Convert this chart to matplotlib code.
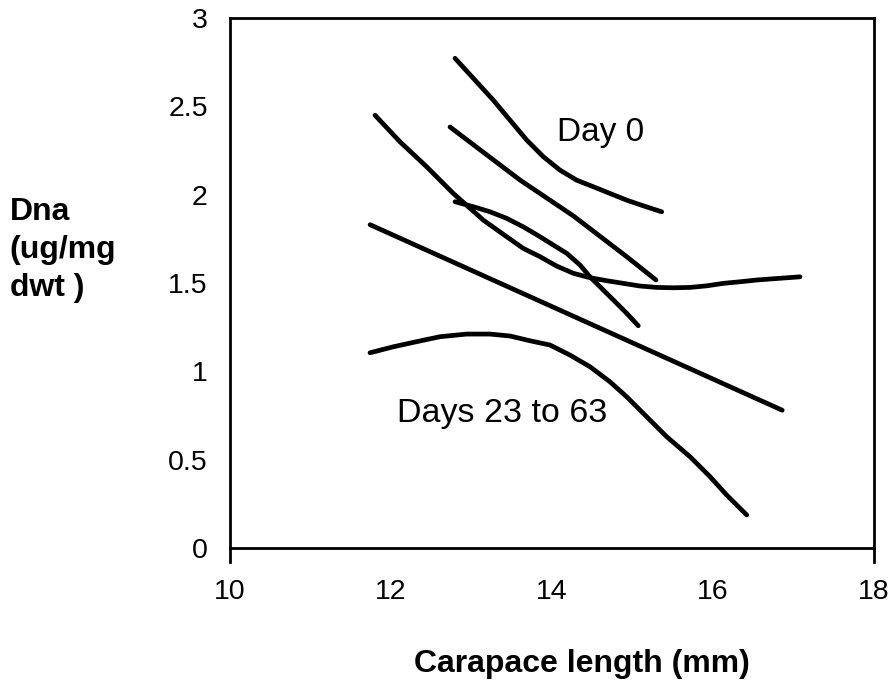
"""DNA content vs carapace length, fitted curves for Day 0 and Days 23 to 63."""

import matplotlib

matplotlib.use("Agg")
from matplotlib import pyplot as plt
from matplotlib.ticker import FixedLocator

plt.rcParams["font.family"] = ["Liberation Sans", "DejaVu Sans"]

# Day 0 upper curve
day0_upper_x = [12.795, 13.022, 13.271, 13.478, 13.686, 13.892, 14.099,
                14.307, 14.513, 14.720, 14.928, 15.134, 15.363]
day0_upper_y = [2.772, 2.659, 2.535, 2.422, 2.309, 2.215, 2.139,
                2.082, 2.045, 2.007, 1.969, 1.937, 1.903]

# Day 0 middle (near straight) curve
day0_mid_x = [12.733, 13.602, 14.265, 14.928, 15.292]
day0_mid_y = [2.383, 2.083, 1.880, 1.649, 1.517]

# long curve that flattens out to the right
flat_x = [11.801, 12.112, 12.443, 12.774, 13.147, 13.437, 13.643, 13.851,
          14.058, 14.265, 14.472, 14.680, 14.886, 15.093, 15.301, 15.507,
          15.714, 15.922, 16.128, 16.335, 16.543, 16.749, 17.081]
flat_y = [2.450, 2.299, 2.158, 2.007, 1.856, 1.762, 1.696, 1.649,
          1.596, 1.555, 1.530, 1.513, 1.498, 1.483, 1.475, 1.473,
          1.475, 1.484, 1.498, 1.507, 1.517, 1.524, 1.535]

# short concave curve
concave_x = [12.795, 13.022, 13.230, 13.437, 13.643, 13.851, 14.016,
             14.183, 14.348, 14.472, 14.638, 14.762, 14.929, 15.072]
concave_y = [1.960, 1.932, 1.903, 1.866, 1.818, 1.762, 1.715,
             1.668, 1.602, 1.535, 1.460, 1.404, 1.328, 1.258]

# straight regression line
straight_x = [11.74, 16.86]
straight_y = [1.83, 0.78]

# Days 23 to 63 curve
late_x = [11.739, 12.029, 12.319, 12.609, 12.940, 13.230, 13.478, 13.727,
          13.975, 14.224, 14.472, 14.720, 14.928, 15.176, 15.425, 15.714,
          15.963, 16.170, 16.419]
late_y = [1.105, 1.139, 1.168, 1.196, 1.211, 1.211, 1.200, 1.173,
          1.149, 1.092, 1.026, 0.941, 0.856, 0.743, 0.630, 0.517,
          0.404, 0.300, 0.187]

x_ticks = [10, 12, 14, 16, 18]
x_marks = [12, 14, 16]
y_ticks = [0, 0.5, 1, 1.5, 2, 2.5, 3]
y_labels = ["0", "0.5", "1", "1.5", "2", "2.5", "3"]

fig = plt.figure(figsize=(8.94, 6.87), dpi=100)
ax = fig.add_axes([0.2573, 0.2023, 0.7203, 0.7715])

curves = [
    (day0_upper_x, day0_upper_y),
    (day0_mid_x, day0_mid_y),
    (flat_x, flat_y),
    (concave_x, concave_y),
    (straight_x, straight_y),
    (late_x, late_y),
]
for xs, ys in curves:
    ax.plot(xs, ys, color="black", lw=3.4, solid_capstyle="round",
            solid_joinstyle="round")

ax.text(14.6, 2.35, "Day 0", fontsize=24, ha="center", va="center")
ax.text(13.38, 0.76, "Days 23 to 63", fontsize=24.5, ha="center", va="center")

ax.set_xlim(10, 18)
ax.set_ylim(0, 3)
ax.set_xticks(x_ticks, [str(t) for t in x_ticks])
ax.set_yticks(y_ticks, y_labels)
ax.xaxis.set_minor_locator(FixedLocator(x_marks))
ax.tick_params(axis="both", which="major", length=0, labelsize=20.5)
ax.tick_params(axis="x", which="major", pad=22)
ax.tick_params(axis="y", which="major", pad=16)
ax.tick_params(axis="x", which="minor", direction="inout", length=21, width=2)

for side in ["left", "right", "top", "bottom"]:
    ax.spines[side].set_linewidth(2)
ax.spines["left"].set_bounds(-0.08, 3)
ax.spines["right"].set_bounds(-0.08, 3)

fig.text(0.011, 0.636, "Dna\n(ug/mg\ndwt )", fontsize=23, fontweight="bold",
         ha="left", va="center", linespacing=1.35)
fig.text(0.651, 0.022, "Carapace length (mm)", fontsize=23, fontweight="bold",
         ha="center", va="baseline")

fig.savefig("out.png", dpi=100)
